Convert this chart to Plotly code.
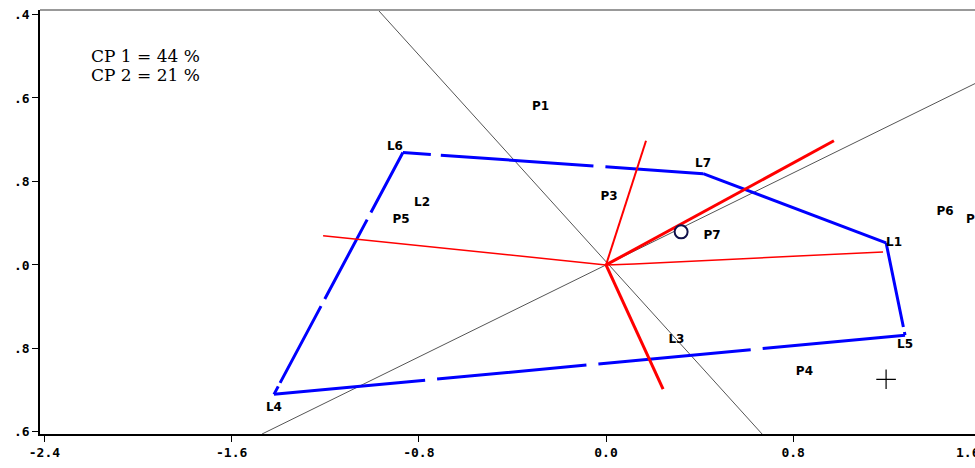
import plotly.graph_objects as go

# ---------------- data ----------------
# polygon vertices (genotypes on the hull)
vertex_labels = ["L6", "L7", "L1", "L5", "L4"]
vertex_x = [-0.868, 0.415, 1.197, 1.278, -1.419]
vertex_y = [1.077, 0.875, 0.212, -0.673, -1.240]

# other genotypes / environments
point_labels = ["P1", "P2", "P3", "P4", "P5", "P6", "P7", "L2", "L3"]
point_x = [-0.280, 1.575, 0.013, 0.848, -0.876, 1.449, 0.453, -0.786, 0.301]
point_y = [1.510, 0.433, 0.654, -1.030, 0.433, 0.510, 0.279, 0.591, -0.716]

# red rays (perpendiculars to polygon sides), from the origin
ray_left_x, ray_left_y = [0.0, -1.209], [0.0, 0.279]
ray_up_x, ray_up_y = [0.0, 0.171], [0.0, 1.190]
ray_upright_x, ray_upright_y = [0.0, 0.974], [0.0, 1.190]
ray_down_x, ray_down_y = [0.0, 0.244], [0.0, -1.190]
ray_right_x, ray_right_y = [0.0, 0.12, 1.184], [0.0, 0.01, 0.125]

# thin black reference lines
axis_a_x, axis_a_y = [-0.974, 0.667], [2.443, -1.620]
axis_b_x, axis_b_y = [-1.470, 1.577], [-1.620, 1.738]

# special markers: ideal point "O" and mean "+"
ideal_x, ideal_y = [0.321], [0.317]
mean_x, mean_y = [1.197], [-1.096]

cp_texts = ["CP 1 = 44 %", "CP 2 = 21 %"]

x_tickvals = [-2.4, -1.6, -0.8, 0.0, 0.8]
x_ticktext = ["-2.4", "-1.6", "-0.8", "0.0", "0.8"]
x_cut_tick = 1.6
x_cut_text = "1.6"
y_tickvals = [2.4, 1.6, 0.8, 0.0, -0.8, -1.6]
y_ticktext = [".4", ".6", ".8", ".0", ".8", ".6"]

X_RANGE = [-2.419, 1.577]
Y_RANGE = [-1.620, 2.443]

# ---------------- figure ----------------
fig = go.Figure()

# black reference lines
for lx, ly in [(axis_a_x, axis_a_y), (axis_b_x, axis_b_y)]:
    fig.add_trace(go.Scatter(x=lx, y=ly, mode="lines",
                             line=dict(color="#555555", width=1),
                             hoverinfo="skip", showlegend=False))

# blue polygon, side by side with dash patterns
BLUE = "#0000ff"
side_dashes = [
    "28px,10px,153px,12px,400px",
    "solid",
    "86px,5px,200px",
    "143px,12px,153px,12px,150px,12px,400px",
    "9px,4px,87px,8px,90px,8px,300px",
]
n = len(vertex_x)
for i in range(n):
    j = (i + 1) % n
    fig.add_trace(go.Scatter(x=[vertex_x[i], vertex_x[j]], y=[vertex_y[i], vertex_y[j]],
                             mode="lines", line=dict(color=BLUE, width=3, dash=side_dashes[i]),
                             hoverinfo="skip", showlegend=False))

# red rays
RED = "#ff0000"
for rx, ry, w in [(ray_left_x, ray_left_y, 1.5), (ray_up_x, ray_up_y, 2),
                  (ray_right_x, ray_right_y, 1.5),
                  (ray_upright_x, ray_upright_y, 3), (ray_down_x, ray_down_y, 3)]:
    fig.add_trace(go.Scatter(x=rx, y=ry, mode="lines", line=dict(color=RED, width=w),
                             hoverinfo="skip", showlegend=False))

LABEL_FONT = dict(family="DejaVu Sans", size=12, color="black", weight="bold")

# vertex labels
fig.add_trace(go.Scatter(
    x=vertex_x, y=vertex_y, mode="markers+text", text=vertex_labels,
    textposition=["top left", "top center", "middle right", "bottom center", "bottom center"],
    marker=dict(size=[0, 3.7, 0, 4.8, 11], opacity=0),
    textfont=LABEL_FONT, hoverinfo="skip", showlegend=False))

# other labels
fig.add_trace(go.Scatter(
    x=point_x, y=point_y, mode="text", text=point_labels,
    textposition="middle center", textfont=LABEL_FONT,
    hoverinfo="skip", showlegend=False))

# ideal point O
fig.add_trace(go.Scatter(
    x=ideal_x, y=ideal_y, mode="markers",
    marker=dict(symbol="circle", size=13, color="white",
                line=dict(color="#10104a", width=2)),
    hoverinfo="skip", showlegend=False))

# mean point +
fig.add_trace(go.Scatter(
    x=mean_x, y=mean_y, mode="markers",
    marker=dict(symbol="cross-thin", size=14, line=dict(color="black", width=1.2)),
    hoverinfo="skip", showlegend=False))

TICK_FONT = dict(family="DejaVu Sans Mono", size=13, color="black", weight="bold")

fig.update_xaxes(range=X_RANGE, tickvals=x_tickvals, ticktext=x_ticktext,
                 ticks="outside", ticklen=6, tickwidth=1, tickcolor="black",
                 showline=True, linecolor="black", linewidth=1.5,
                 showgrid=False, zeroline=False, tickfont=TICK_FONT)
fig.update_yaxes(range=Y_RANGE, tickvals=y_tickvals, ticktext=y_ticktext,
                 ticks="outside", ticklen=6, tickwidth=1, tickcolor="black",
                 showline=True, linecolor="black", linewidth=1.5,
                 showgrid=False, zeroline=False, tickfont=TICK_FONT)

# last x tick label, partly cut by the right edge as in the source image
cut_frac = (x_cut_tick - X_RANGE[0]) / (X_RANGE[1] - X_RANGE[0])
fig.add_annotation(x=cut_frac, y=0, xref="paper", yref="paper", text=x_cut_text,
                   showarrow=False, xanchor="center", yanchor="top", yshift=-9,
                   xshift=-12, font=TICK_FONT)

# top border (grey)
fig.add_shape(type="line", xref="paper", yref="paper", x0=0, x1=1, y0=1, y1=1,
              line=dict(color="#999999", width=2))

# CP annotations
for k, t in enumerate(cp_texts):
    fig.add_annotation(x=0.052, y=0.8915 - k * 0.045, xref="paper", yref="paper",
                       text=t, showarrow=False, xanchor="left", yanchor="middle",
                       font=dict(family="DejaVu Serif", size=17, color="black"))

fig.update_layout(width=975, height=468,
                  margin=dict(l=40, r=0, t=10, b=34),
                  plot_bgcolor="white", paper_bgcolor="white",
                  showlegend=False)

fig.write_html("out.html", config={"displayModeBar": False},
               post_script="document.body.style.margin='0';")
